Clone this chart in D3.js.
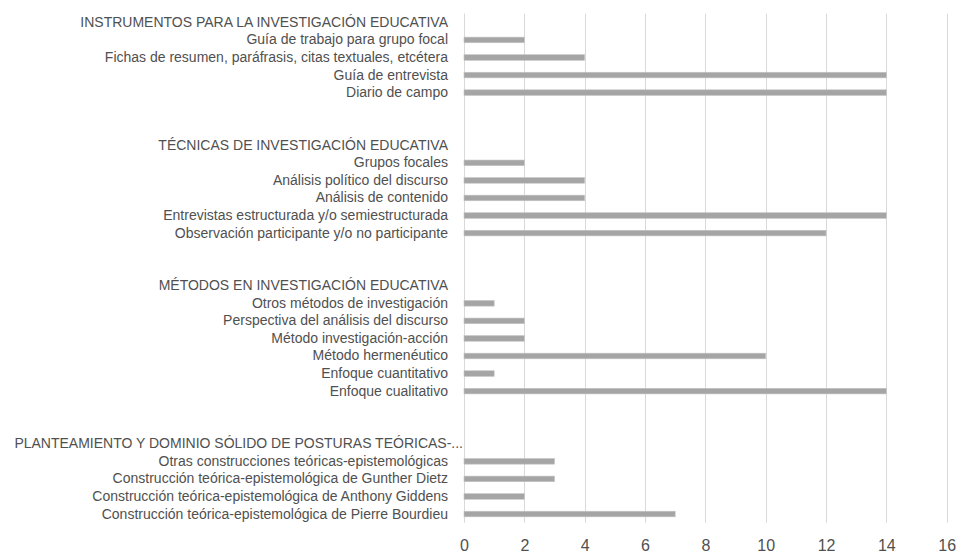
<!DOCTYPE html>
<meta charset="utf-8">
<style>
    body { margin: 0; background: #fff; }
    text { font-family: "Liberation Sans", Arial, sans-serif; fill: #505050; }
    .grid line { stroke: #d9d9d9; }
    .bar { fill: #a5a5a5; stroke: #c4c4c4; stroke-width: 0.6; }
</style>
<svg width="957" height="553"></svg>
<script src="https://d3js.org/d3.v7.min.js"></script>
<script>
    // rows from top to bottom; group headers and empty rows have no value
    var rowLabels = [
        "INSTRUMENTOS PARA LA INVESTIGACIÓN EDUCATIVA",
        "Guía de trabajo para grupo focal",
        "Fichas de resumen, paráfrasis, citas textuales, etcétera",
        "Guía de entrevista",
        "Diario de campo",
        "", "",
        "TÉCNICAS DE INVESTIGACIÓN EDUCATIVA",
        "Grupos focales",
        "Análisis político del discurso",
        "Análisis de contenido",
        "Entrevistas estructurada y/o semiestructurada",
        "Observación participante y/o no participante",
        "", "",
        "MÉTODOS EN INVESTIGACIÓN EDUCATIVA",
        "Otros métodos de investigación",
        "Perspectiva del análisis del discurso",
        "Método investigación-acción",
        "Método hermenéutico",
        "Enfoque cuantitativo",
        "Enfoque cualitativo",
        "", "",
        "PLANTEAMIENTO Y DOMINIO SÓLIDO DE POSTURAS TEÓRICAS-...",
        "Otras construcciones teóricas-epistemológicas",
        "Construcción teórica-epistemológica de Gunther Dietz",
        "Construcción teórica-epistemológica de Anthony Giddens",
        "Construcción teórica-epistemológica de Pierre Bourdieu"
    ];
    var rowValues = [
        null, 2, 4, 14, 14,
        null, null,
        null, 2, 4, 4, 14, 12,
        null, null,
        null, 1, 2, 2, 10, 1, 14,
        null, null,
        null, 3, 3, 2, 7
    ];
    var xTicks = [0, 2, 4, 6, 8, 10, 12, 14, 16];

    var svg = d3.select('svg'),
        margin = { top: 13.6, right: 10.3, bottom: 30.2, left: 464 },
        width = +svg.attr('width') - margin.left - margin.right,
        height = +svg.attr('height') - margin.top - margin.bottom;

    var x = d3.scaleLinear().domain([0, 16]).range([0, width]);
    var y = d3.scaleBand()
        .domain(d3.range(rowLabels.length))
        .range([0, height])
        .paddingInner(0.68)
        .paddingOuter(0.34);

    var g = svg.append('g')
        .attr('transform', 'translate(' + margin.left + ',' + margin.top + ')');

    // vertical gridlines
    g.append('g')
        .attr('class', 'grid')
        .selectAll('line')
        .data(xTicks)
        .enter().append('line')
        .attr('x1', d => Math.round(x(d)) + 0.5)
        .attr('x2', d => Math.round(x(d)) + 0.5)
        .attr('y1', 0)
        .attr('y2', height);

    // x axis labels
    var xAxis = g.append('g')
        .attr('transform', 'translate(0,' + height + ')')
        .call(d3.axisBottom(x).tickValues(xTicks).tickSize(0).tickPadding(17));
    xAxis.select('.domain').remove();
    xAxis.selectAll('text')
        .attr('font-size', 16)
        .attr('font-family', null)
        .attr('fill', '#505050');

    // category labels
    var yAxis = g.append('g')
        .call(d3.axisLeft(y).tickSize(0).tickPadding(16).tickFormat(i => rowLabels[i]));
    yAxis.select('.domain').remove();
    yAxis.selectAll('text')
        .attr('font-size', 14)
        .attr('font-family', null)
        .attr('fill', '#505050')
        .attr('x', (i) => i === 24 ? -1 : -16);

    // bars
    var bars = rowValues.map((v, i) => ({ i: i, v: v })).filter(d => d.v !== null);
    g.selectAll('.bar')
        .data(bars)
        .enter().append('rect')
        .attr('class', 'bar')
        .attr('x', x(0))
        .attr('y', d => y(d.i))
        .attr('width', d => x(d.v) - x(0))
        .attr('height', y.bandwidth());
</script>
